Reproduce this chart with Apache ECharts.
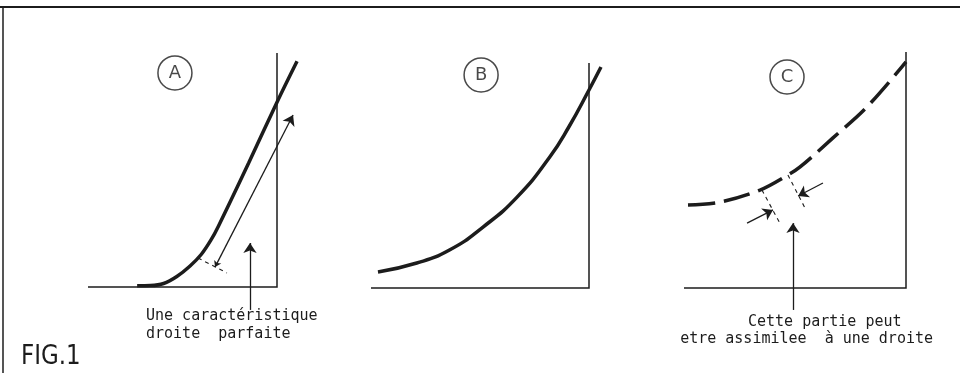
<!DOCTYPE html>
<html>
<head>
<meta charset="utf-8">
<title>FIG.1</title>
<script src="https://cdn.jsdelivr.net/npm/echarts/dist/echarts.min.js"></script>
<style>
    html, body { margin: 0; padding: 0; background: #fff; }
    #e-main { width: 960px; height: 373px; }
</style>
</head>
<body>
<div id="e-main"></div>
<script>
// courbes (unites 0..100 pour chaque cadre, l'axe vertical est a x=100)
var curveA = [[26, 0.5], [33, 0.6], [40, 1.5], [47, 4.5], [54, 9], [60, 14], [65, 20], [69, 26], [85, 53], [100, 79], [110.6, 96.5]];
var curveB = [[3.2, 7.1], [21, 11.1], [36, 16.9], [51.4, 27.1], [67, 40.4], [82, 58.2], [91, 72], [100, 88], [105.5, 98.2]];
var curveC = [[1.8, 35.2], [16.2, 36.4], [34.2, 41.5], [46.8, 47.9], [52.3, 51.3], [67.1, 63.6], [82.4, 76.7], [100, 95.8]];

// axes de chaque cadre : horizontal puis vertical
var frameAxes = [[0, 0], [100, 0], [100, 100]];

// fleches et traits de repere
var doubleArrowA = [[67.2, 8.5], [108.5, 73.5]];
var pointerA = [[85.7, -9.8], [85.7, 18.8]];
var tickA = [[58.2, 12.4], [73.5, 6.0]];
var ticksC = [[[35.1, 41.5], [43.2, 27.5]], [[46.8, 47.9], [54.5, 33.9]]];
var arrowsC = [[[28.4, 27.5], [40.1, 33.1]], [[62.6, 44.5], [51.4, 39.0]]];
var pointerC = [[49.1, -9.3], [49.1, 27.5]];

// reperes entoures
var circleLabels = ['A', 'B', 'C'];
var circlePos = [[46, 91.5], [50.5, 94.7], [46.4, 89.4]];

var textA = ['Une caractéristique', 'droite  parfaite'];
var textC = ['Cette partie peut', 'etre assimilee  à une droite'];

var ink = '#1c1c1c';
var myChart = echarts.init(document.getElementById('e-main'));

// largeur d'un cadre jusqu'a l'axe vertical, et depassement de la courbe a droite
var boxes = [
    {left: 88, top: 53, width: 189, height: 234, xMax: 112, smooth: 0.35},
    {left: 371, top: 63, width: 218, height: 225, xMax: 106, smooth: 0.5},
    {left: 684, top: 52, width: 222, height: 236, xMax: 100, smooth: 0.35}
];

var grids = boxes.map(function (b) {
    return {left: b.left, top: b.top, width: b.width * b.xMax / 100, height: b.height};
});

function makeAxis(i, max) {
    return {
        type: 'value',
        gridIndex: i,
        min: 0,
        max: max,
        axisLine: {show: false},
        axisTick: {show: false},
        axisLabel: {show: false},
        splitLine: {show: false}
    };
}

function curve(i, data, dashed) {
    return {
        type: 'line',
        xAxisIndex: i,
        yAxisIndex: i,
        data: data,
        smooth: boxes[i].smooth,
        showSymbol: false,
        clip: false,
        lineStyle: {color: ink, width: 3.5, type: dashed ? [27, 9] : 'solid', cap: 'butt'}
    };
}

function arrows(i, list, symbol, style) {
    return {
        type: 'lines',
        coordinateSystem: 'cartesian2d',
        xAxisIndex: i,
        yAxisIndex: i,
        clip: false,
        polyline: style === 'frame',
        symbol: symbol,
        symbolSize: [6, 10],
        lineStyle: {
            color: ink,
            width: style === 'frame' ? 1.5 : (style === 'dashed' ? 1.1 : 1.3),
            type: style === 'dashed' ? [4, 4] : 'solid',
            opacity: 1
        },
        data: list.map(function (c) { return {coords: c}; })
    };
}

var xAxes = [], yAxes = [], series = [];
for (var i = 0; i < 3; i++) {
    xAxes.push(makeAxis(i, boxes[i].xMax));
    yAxes.push(makeAxis(i, 100));
    series.push(arrows(i, [frameAxes], ['none', 'none'], 'frame'));
}

series.push(
    curve(0, curveA, false),
    curve(1, curveB, false),
    curve(2, curveC, true),
    arrows(0, [doubleArrowA], ['arrow', 'arrow'], 'solid'),
    arrows(0, [pointerA], ['none', 'arrow'], 'solid'),
    arrows(0, [tickA], ['none', 'none'], 'dashed'),
    arrows(2, ticksC, ['none', 'none'], 'dashed'),
    arrows(2, arrowsC, ['none', 'arrow'], 'solid'),
    arrows(2, [pointerC], ['none', 'arrow'], 'solid')
);

// les lettres entourees
for (var k = 0; k < 3; k++) {
    series.push({
        type: 'scatter',
        xAxisIndex: k,
        yAxisIndex: k,
        symbol: 'circle',
        symbolSize: 34,
        itemStyle: {color: 'rgba(0,0,0,0)', borderColor: ink, borderWidth: 1.5},
        label: {
            show: true,
            position: 'inside',
            formatter: circleLabels[k],
            fontFamily: 'DejaVu Sans',
            fontSize: 18,
            color: ink
        },
        data: [circlePos[k]]
    });
}

function txt(x, y, s, align) {
    return {
        type: 'text',
        x: x,
        y: y,
        style: {
            text: s,
            font: '15px "DejaVu Sans Mono"',
            fill: ink,
            textAlign: align,
            textVerticalAlign: 'middle'
        }
    };
}

var option = {
    backgroundColor: '#fff',
    animation: false,
    grid: grids,
    xAxis: xAxes,
    yAxis: yAxes,
    series: series,
    graphic: [
        // cadre de la figure
        {type: 'line', shape: {x1: 0, y1: 7, x2: 960, y2: 7}, style: {stroke: ink, lineWidth: 2}},
        {type: 'line', shape: {x1: 3, y1: 7, x2: 3, y2: 373}, style: {stroke: ink, lineWidth: 1.5}},
        txt(146, 316, textA[0], 'left'),
        txt(146, 334, textA[1], 'left'),
        txt(748, 322, textC[0], 'left'),
        txt(933, 339, textC[1], 'right'),
        {
            type: 'text',
            x: 21,
            y: 357,
            scaleX: 0.85,
            style: {text: 'FIG.1', font: '27px "DejaVu Sans"', fill: ink, textVerticalAlign: 'middle'}
        }
    ]
};

myChart.setOption(option, true);
</script>
</body>
</html>
